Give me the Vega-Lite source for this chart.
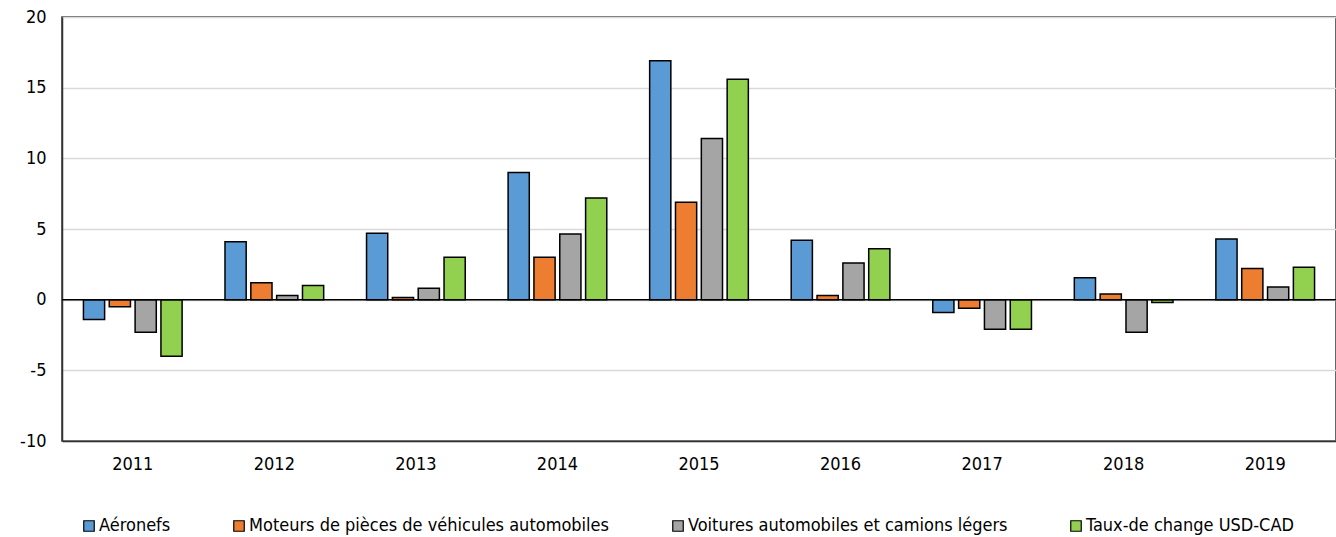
{
  "$schema": "https://vega.github.io/schema/vega-lite/v6.json",
  "autosize": {"type": "none"},
  "padding": {"left": 62, "top": 17, "right": 0, "bottom": 96},
  "width": 1274,
  "height": 424,
  "config": {
    "font": "DejaVu Sans Condensed, Roboto, sans-serif",
    "view": {"stroke": "#333333", "strokeWidth": 1.5},
    "axis": {"labelFont": "DejaVu Sans Condensed, Roboto, sans-serif", "labelFontSize": 18, "labelColor": "#000000"}
  },
  "data": {
    "values": [
      {"year": "2011", "series": "Aéronefs", "value": -1.4},
      {"year": "2011", "series": "Moteurs de pièces de véhicules automobiles", "value": -0.5},
      {"year": "2011", "series": "Voitures automobiles et camions légers", "value": -2.3},
      {"year": "2011", "series": "Taux-de change USD-CAD", "value": -4.0},
      {"year": "2012", "series": "Aéronefs", "value": 4.1},
      {"year": "2012", "series": "Moteurs de pièces de véhicules automobiles", "value": 1.2},
      {"year": "2012", "series": "Voitures automobiles et camions légers", "value": 0.3},
      {"year": "2012", "series": "Taux-de change USD-CAD", "value": 1.0},
      {"year": "2013", "series": "Aéronefs", "value": 4.7},
      {"year": "2013", "series": "Moteurs de pièces de véhicules automobiles", "value": 0.15},
      {"year": "2013", "series": "Voitures automobiles et camions légers", "value": 0.8},
      {"year": "2013", "series": "Taux-de change USD-CAD", "value": 3.0},
      {"year": "2014", "series": "Aéronefs", "value": 9.0},
      {"year": "2014", "series": "Moteurs de pièces de véhicules automobiles", "value": 3.0},
      {"year": "2014", "series": "Voitures automobiles et camions légers", "value": 4.65},
      {"year": "2014", "series": "Taux-de change USD-CAD", "value": 7.2},
      {"year": "2015", "series": "Aéronefs", "value": 16.9},
      {"year": "2015", "series": "Moteurs de pièces de véhicules automobiles", "value": 6.9},
      {"year": "2015", "series": "Voitures automobiles et camions légers", "value": 11.4},
      {"year": "2015", "series": "Taux-de change USD-CAD", "value": 15.6},
      {"year": "2016", "series": "Aéronefs", "value": 4.2},
      {"year": "2016", "series": "Moteurs de pièces de véhicules automobiles", "value": 0.3},
      {"year": "2016", "series": "Voitures automobiles et camions légers", "value": 2.6},
      {"year": "2016", "series": "Taux-de change USD-CAD", "value": 3.6},
      {"year": "2017", "series": "Aéronefs", "value": -0.9},
      {"year": "2017", "series": "Moteurs de pièces de véhicules automobiles", "value": -0.6},
      {"year": "2017", "series": "Voitures automobiles et camions légers", "value": -2.1},
      {"year": "2017", "series": "Taux-de change USD-CAD", "value": -2.1},
      {"year": "2018", "series": "Aéronefs", "value": 1.55},
      {"year": "2018", "series": "Moteurs de pièces de véhicules automobiles", "value": 0.4},
      {"year": "2018", "series": "Voitures automobiles et camions légers", "value": -2.3},
      {"year": "2018", "series": "Taux-de change USD-CAD", "value": -0.2},
      {"year": "2019", "series": "Aéronefs", "value": 4.3},
      {"year": "2019", "series": "Moteurs de pièces de véhicules automobiles", "value": 2.2},
      {"year": "2019", "series": "Voitures automobiles et camions légers", "value": 0.9},
      {"year": "2019", "series": "Taux-de change USD-CAD", "value": 2.3}
    ]
  },
  "layer": [
    {
      "mark": {"type": "bar", "stroke": "#000000", "strokeWidth": 1.5},
      "encoding": {
        "x": {
          "field": "year", "type": "nominal",
          "scale": {"paddingInner": 0.27, "paddingOuter": 0.135},
          "axis": {"title": null, "labelAngle": 0, "ticks": false, "domain": true, "domainColor": "#333333", "domainWidth": 1.5, "labelPadding": 14}
        },
        "xOffset": {
          "field": "series", "type": "nominal",
          "sort": ["Aéronefs", "Moteurs de pièces de véhicules automobiles", "Voitures automobiles et camions légers", "Taux-de change USD-CAD"],
          "scale": {"paddingInner": 0.18, "paddingOuter": 0.09}
        },
        "y": {
          "field": "value", "type": "quantitative",
          "scale": {"domain": [-10, 20], "nice": false},
          "axis": {"title": null, "values": [-10, -5, 0, 5, 10, 15, 20], "labelExpr": "replace(datum.label, '\u2212', '-')", "ticks": false, "domain": true, "domainColor": "#333333", "domainWidth": 1.5, "grid": true, "gridColor": "#d9d9d9", "gridWidth": 1.5, "labelPadding": 16}
        },
        "color": {
          "field": "series", "type": "nominal",
          "sort": ["Aéronefs", "Moteurs de pièces de véhicules automobiles", "Voitures automobiles et camions légers", "Taux-de change USD-CAD"],
          "scale": {"range": ["#5B9BD5", "#ED7D31", "#A5A5A5", "#92D050"]},
          "legend": {
            "title": null, "orient": "none", "legendX": 18, "legendY": 500,
            "direction": "horizontal", "columns": 4, "columnPadding": 59,
            "symbolType": "square", "symbolSize": 110, "symbolStrokeColor": "#000000", "symbolStrokeWidth": 1.2, "symbolOpacity": 1,
            "labelFont": "DejaVu Sans Condensed, Roboto, sans-serif", "labelFontSize": 18, "labelColor": "#000000", "labelOffset": 1, "labelLimit": 500
          }
        }
      }
    },
    {
      "mark": {"type": "rule", "color": "#000000", "strokeWidth": 1.5},
      "data": {"values": [{"z": 0}]},
      "encoding": {"y": {"field": "z", "type": "quantitative"}}
    }
  ]
}
